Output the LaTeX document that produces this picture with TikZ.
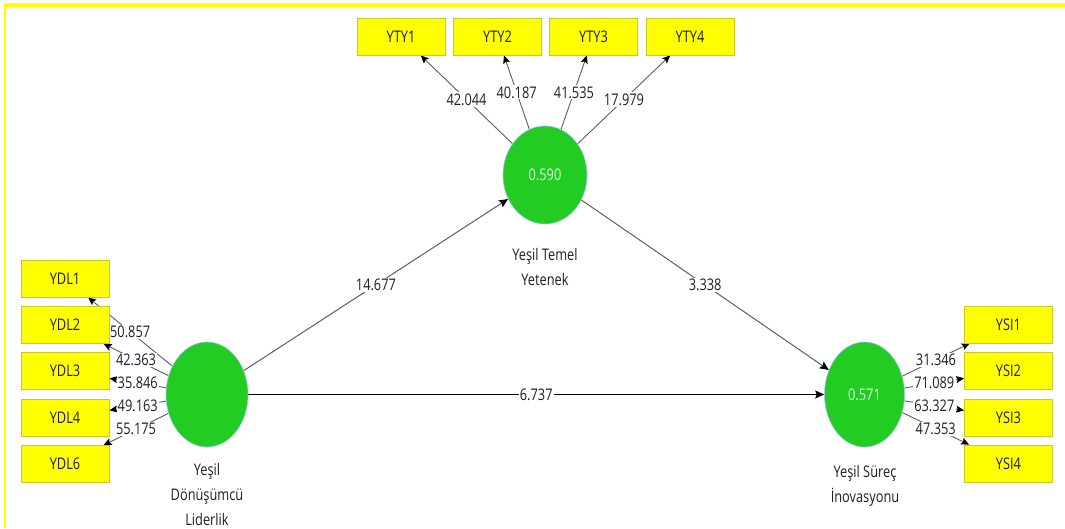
\documentclass[tikz,border=0pt]{standalone}
\usepackage{fontspec}
\setmainfont{Open Sans}[FakeStretch=0.8]
\usetikzlibrary{arrows.meta,shapes.geometric}
\definecolor{boxyellow}{RGB}{255,255,0}
\definecolor{boxedge}{RGB}{200,200,40}
\definecolor{lvgreen}{RGB}{34,204,34}
\definecolor{lvedge}{RGB}{150,200,230}
\definecolor{valtext}{RGB}{228,252,228}
\definecolor{loadgray}{RGB}{95,95,95}
\definecolor{txt}{RGB}{30,30,45}
\pgfdeclarelayer{back}
\pgfdeclarelayer{bg}
\pgfsetlayers{back,bg,main}
\tikzset{
  fnt/.style={font=\fontsize{16}{25}\selectfont},
  ind/.style={fnt, draw=boxedge, fill=boxyellow, line width=0.8pt, minimum width=88pt, minimum height=37pt, inner sep=0pt, text=txt},
  lv/.style={fnt, ellipse, fill=lvgreen, draw=lvedge, line width=0.6pt, inner sep=0pt, text=valtext},
  lvname/.style={fnt, align=center, anchor=north, inner sep=0pt, text=txt},
  load/.style={draw=loadgray, line width=0.9pt, -{Stealth[length=8pt,width=7pt,inset=1.5pt,color=black]}},
  pathgray/.style={draw=loadgray, line width=1pt, -{Stealth[length=9pt,width=8pt,inset=1.5pt,color=black]}},
  pathblack/.style={draw=black, line width=1.1pt, -{Stealth[length=9pt,width=8pt,inset=1.5pt,color=black]}},
  val/.style={fnt, fill=white, inner sep=1.2pt, text=txt}
}
\begin{document}
\begin{tikzpicture}[x=1pt,y=-1pt]
\begin{pgfonlayer}{back}
  \fill[white] (0,0) rectangle (1065,528);
\end{pgfonlayer}
\useasboundingbox (0,0) rectangle (1065,528);
% frame
\fill[boxyellow] (4,3) rectangle (1065,7.3);
\fill[boxyellow] (4,3) rectangle (6.3,528);

% latent variables
\node[lv, minimum width=84pt, minimum height=98pt] (yty) at (545,175) {0.590};
\node[lv, minimum width=82pt, minimum height=105pt] (ydl) at (207,394.5) {};
\node[lv, minimum width=80pt, minimum height=105pt] (ysi) at (864.5,394.5) {0.571};

\node[lvname] (ytyname) at (545,248) {Yeşil Temel\\Yetenek};
\node[lvname] (ydlname) at (207,463) {Yeşil\\Dönüşümcü\\Liderlik};
\node[lvname] (ysiname) at (865,465) {Yeşil Süreç\\İnovasyonu};

% indicators
\node[ind] (yty1) at (401,36.5) {YTY1};
\node[ind] (yty2) at (497.5,36.5) {YTY2};
\node[ind] (yty3) at (593.5,36.5) {YTY3};
\node[ind] (yty4) at (690,36.5) {YTY4};

\node[ind] (ydl1) at (65,278.5) {YDL1};
\node[ind] (ydl2) at (65,325) {YDL2};
\node[ind] (ydl3) at (65,371) {YDL3};
\node[ind] (ydl4) at (65,417.5) {YDL4};
\node[ind] (ydl6) at (65,464) {YDL6};

\node[ind] (ysi1) at (1008.5,324.5) {YSI1};
\node[ind] (ysi2) at (1008.5,371) {YSI2};
\node[ind] (ysi3) at (1008.5,417.5) {YSI3};
\node[ind] (ysi4) at (1008.5,463.5) {YSI4};

\begin{pgfonlayer}{bg}
  \draw[load] (yty) -- (yty1) node[val, midway] {42.044};
  \draw[load] (yty) -- (yty2) node[val, midway] {40.187};
  \draw[load] (yty) -- (yty3) node[val, midway] {41.535};
  \draw[load] (yty) -- (yty4) node[val, midway] {17.979};

  \draw[load] (ydl) -- (ydl1) node[val, midway] {50.857};
  \draw[load] (ydl) -- (ydl2) node[val, midway] {42.363};
  \draw[load] (ydl) -- (ydl3) node[val, midway] {35.846};
  \draw[load] (ydl) -- (ydl4) node[val, midway] {49.163};
  \draw[load] (ydl) -- (ydl6) node[val, midway] {55.175};

  \draw[load] (ysi) -- (ysi1) node[val, midway] {31.346};
  \draw[load] (ysi) -- (ysi2) node[val, midway] {71.089};
  \draw[load] (ysi) -- (ysi3) node[val, midway] {63.327};
  \draw[load] (ysi) -- (ysi4) node[val, midway] {47.353};

  \draw[pathgray] (ydl) -- (yty) node[val, midway] {14.677};
  \draw[pathgray] (yty) -- (ysi) node[val, midway] {3.338};
  \draw[pathblack] (ydl) -- (ysi) node[val, midway] {6.737};
\end{pgfonlayer}
\end{tikzpicture}
\end{document}
